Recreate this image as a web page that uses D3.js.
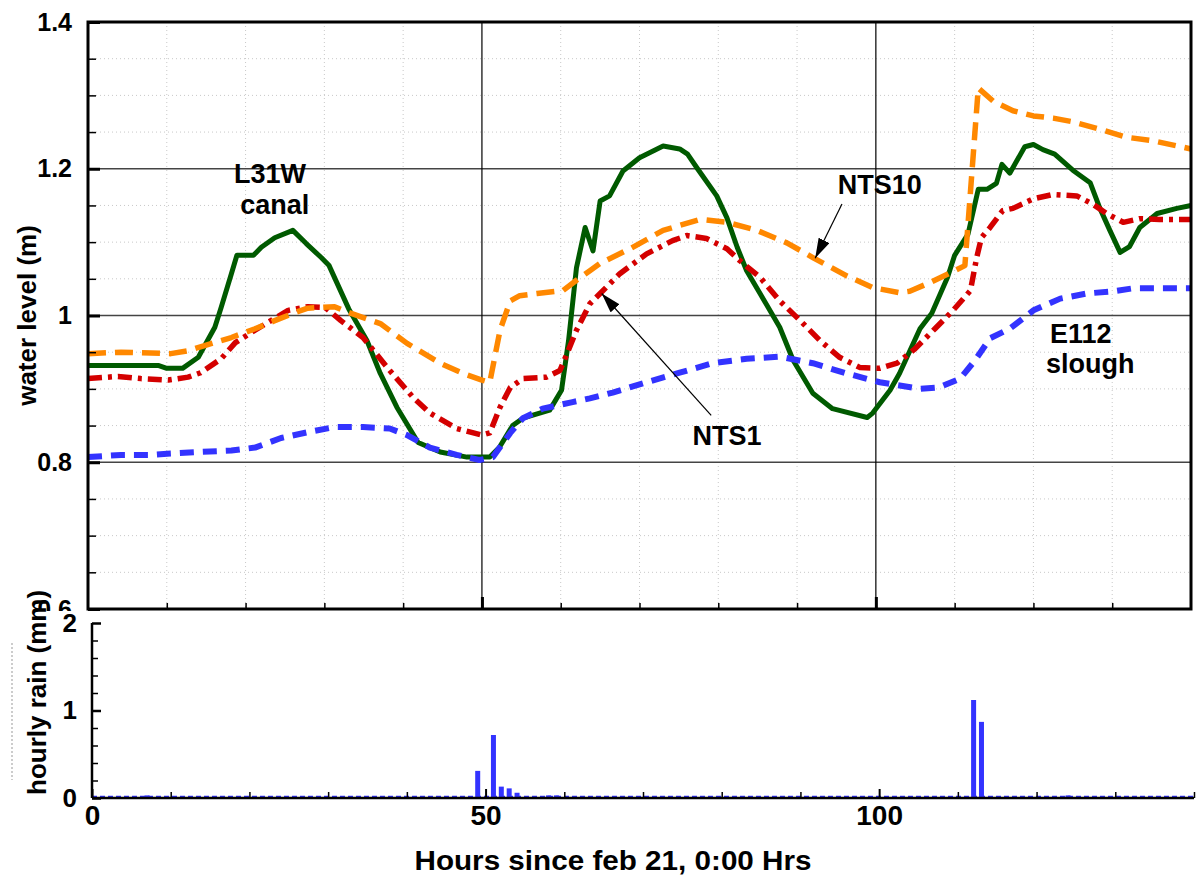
<!DOCTYPE html>
<html>
<head>
<meta charset="utf-8">
<script src="https://cdn.jsdelivr.net/npm/d3@7"></script>
<style>
  body { margin: 0; background: #fff; }
  text { font-family: Arial, "Liberation Sans", sans-serif; font-weight: bold; fill: #000; }
</style>
</head>
<body>
<div id="chart"></div>
<script>
// water levels: [hour, level in m]
var l31wCanal = [[0,0.932],[8.9,0.932],[10,0.928],[12,0.928],[14,0.943],[16.1,0.984],[16.9,1.011],[18.2,1.057],[18.9,1.082],[21,1.082],[22,1.093],[23.7,1.106],[26,1.116],[27.7,1.098],[29.6,1.079],[30.6,1.068],[33.1,1.009],[35.4,0.966],[37.1,0.921],[39.2,0.875],[41.9,0.827],[44.7,0.814],[48.1,0.807],[51,0.807],[52.2,0.82],[53.9,0.85],[55.2,0.86],[58.6,0.871],[60.1,0.898],[61,0.966],[62,1.065],[63.1,1.12],[64.1,1.088],[65,1.156],[66.2,1.163],[67.9,1.197],[70,1.215],[73,1.231],[75.1,1.227],[76.1,1.22],[77.3,1.201],[79.8,1.163],[81.1,1.133],[82.4,1.093],[83.6,1.061],[85.3,1.03],[87.8,0.984],[89.5,0.939],[92,0.894],[94.5,0.873],[98.9,0.861],[99.6,0.867],[101.8,0.898],[103,0.921],[105.6,0.982],[107.1,1.003],[109.1,1.052],[110,1.082],[111.7,1.111],[113,1.172],[114.1,1.172],[115.3,1.18],[116,1.206],[117,1.194],[118.9,1.23],[120,1.233],[121.2,1.226],[122.7,1.22],[125,1.198],[127.2,1.181],[128.4,1.147],[129.7,1.116],[131,1.086],[132.2,1.094],[133.5,1.12],[135.7,1.139],[138.2,1.146],[140,1.15]];

var nts1 = [[0,0.914],[3.8,0.917],[6.7,0.914],[10.2,0.912],[12.7,0.916],[14.3,0.922],[16.9,0.941],[18.7,0.963],[21.2,0.98],[25.4,1.007],[27.9,1.012],[30.1,1.011],[32.1,0.993],[34.9,0.97],[38.3,0.925],[41.3,0.888],[43.4,0.867],[46.8,0.846],[50,0.837],[51,0.84],[52.3,0.875],[53.6,0.902],[55.2,0.914],[58.2,0.916],[59.9,0.925],[60.8,0.948],[62,0.98],[63.7,1.016],[65,1.03],[67.5,1.057],[70.9,1.084],[74.2,1.102],[76,1.109],[78.5,1.105],[81.1,1.091],[82.7,1.075],[85.3,1.052],[87.8,1.02],[90.4,0.993],[92.9,0.966],[95.4,0.943],[98,0.929],[100.5,0.928],[102.7,0.935],[105,0.955],[107.5,0.982],[109.8,1.007],[112,1.034],[112.8,1.079],[113.4,1.106],[114.5,1.12],[116.1,1.143],[117.4,1.146],[120,1.159],[122.5,1.165],[125.5,1.163],[127.5,1.152],[129.3,1.139],[131.4,1.127],[133.5,1.132],[136,1.131],[140,1.131]];

var nts10 = [[0,0.948],[4.2,0.95],[10.5,0.948],[12.7,0.952],[14.8,0.959],[18.2,0.97],[21.2,0.982],[23.7,0.993],[26.3,1.004],[27.9,1.01],[31.3,1.012],[33.1,1.004],[37.1,0.989],[40.5,0.962],[44.7,0.935],[47.6,0.921],[50,0.912],[51,0.909],[52.3,0.98],[53.6,1.02],[54.8,1.027],[57,1.03],[60.3,1.034],[62,1.048],[63.7,1.061],[65,1.071],[68.8,1.091],[73,1.116],[77.7,1.131],[81.1,1.127],[84.9,1.116],[88.7,1.099],[92,1.079],[96.3,1.054],[99.6,1.038],[103,1.031],[104.3,1.033],[106.9,1.045],[109.4,1.058],[111.3,1.068],[113,1.31],[114.9,1.292],[117.4,1.279],[120,1.272],[122.5,1.269],[125,1.264],[128.4,1.254],[131.8,1.243],[135.2,1.238],[140,1.227]];

var e112Slough = [[0,0.807],[4.2,0.81],[8,0.81],[10.5,0.812],[14,0.814],[18.2,0.816],[21.2,0.82],[24.5,0.833],[27.9,0.841],[31.3,0.848],[34.9,0.848],[38.3,0.846],[40.5,0.837],[43.4,0.82],[46.8,0.81],[49.7,0.803],[51.4,0.807],[53.6,0.84],[55.2,0.86],[57.7,0.873],[61.5,0.882],[63.7,0.887],[66.6,0.895],[70.9,0.909],[75.1,0.922],[79.3,0.935],[83.6,0.941],[87.8,0.944],[92,0.935],[96.3,0.921],[100.5,0.909],[105.6,0.9],[108,0.902],[110.7,0.914],[112.6,0.939],[114.5,0.969],[117,0.982],[120,1.007],[123.4,1.023],[126.8,1.03],[130.1,1.033],[132.6,1.037],[140,1.037]];

// hourly rain (mm), only the hours with rain
var rainHours = [7, 49, 51, 52, 53, 54, 58, 59, 112, 113, 124];
var rainMm    = [0.03, 0.31, 0.72, 0.13, 0.11, 0.06, 0.03, 0.03, 1.12, 0.87, 0.03];

var levelTicks = [0.6, 0.8, 1.0, 1.2, 1.4];
var levelTickLabels = ["0.6", "0.8", "1", "1.2", "1.4"];
var rainTicks = [0, 1, 2];
var hourTicks = [0, 50, 100];

var W = 1199, H = 888;
var svg = d3.select("#chart").append("svg")
    .attr("width", W)
    .attr("height", H);

svg.append("defs").append("marker")
    .attr("id", "arrow")
    .attr("markerUnits", "userSpaceOnUse")
    .attr("viewBox", "0 0 20 12")
    .attr("refX", 20).attr("refY", 6)
    .attr("markerWidth", 20).attr("markerHeight", 12)
    .attr("orient", "auto")
  .append("path")
    .attr("d", "M0,0 L20,6 L0,12 Z")
    .attr("fill", "#000");

// ---------- top panel: water level ----------
var x = d3.scaleLinear().domain([0, 140]).range([88, 1191]);
var y = d3.scaleLinear().domain([0.6, 1.4]).range([609, 22]);

var topPanel = svg.append("g");

// minor dotted grid
topPanel.append("g").selectAll("line")
  .data(d3.range(0.65, 1.4, 0.05).filter(function(v) { return Math.abs(v * 5 - Math.round(v * 5)) > 0.01; }))
  .enter().append("line")
    .attr("x1", x(0)).attr("x2", x(140))
    .attr("y1", function(d) { return y(d); }).attr("y2", function(d) { return y(d); })
    .attr("stroke", "#c8c8c8").attr("stroke-width", 1).attr("stroke-dasharray", "1,3");
topPanel.append("g").selectAll("line")
  .data(d3.range(10, 140, 10).filter(function(h) { return h % 50 !== 0; }))
  .enter().append("line")
    .attr("x1", function(d) { return x(d); }).attr("x2", function(d) { return x(d); })
    .attr("y1", y(1.4)).attr("y2", y(0.6))
    .attr("stroke", "#c8c8c8").attr("stroke-width", 1).attr("stroke-dasharray", "1,3");

// major grid
topPanel.append("g").selectAll("line")
  .data([0.8, 1.0, 1.2])
  .enter().append("line")
    .attr("x1", x(0)).attr("x2", x(140))
    .attr("y1", function(d) { return y(d); }).attr("y2", function(d) { return y(d); })
    .attr("stroke", "#444").attr("stroke-width", 1.5);
topPanel.append("g").selectAll("line")
  .data([50, 100])
  .enter().append("line")
    .attr("x1", function(d) { return x(d); }).attr("x2", function(d) { return x(d); })
    .attr("y1", y(1.4)).attr("y2", y(0.6))
    .attr("stroke", "#000").attr("stroke-width", 1.2);

// series
var line = d3.line()
    .x(function(d) { return x(d[0]); })
    .y(function(d) { return y(d[1]); });

var series = [
  { data: l31wCanal, color: "#005a00", dash: null, width: 5 },
  { data: nts1, color: "#d40000", dash: "14,6,4,6", width: 5.5 },
  { data: nts10, color: "#ff8800", dash: "18,9", width: 5.5 },
  { data: e112Slough, color: "#3333ff", dash: "14,9", width: 6 }
];
topPanel.append("g").selectAll("path")
  .data(series)
  .enter().append("path")
    .attr("d", function(d) { return line(d.data); })
    .attr("fill", "none")
    .attr("stroke", function(d) { return d.color; })
    .attr("stroke-width", function(d) { return d.width; })
    .attr("stroke-dasharray", function(d) { return d.dash; })
    .attr("stroke-linejoin", "round");

// axes (ticks inward)
var yMinor = topPanel.append("g").attr("transform", "translate(88,0)")
    .call(d3.axisLeft(y).tickValues(d3.range(0.65, 1.4, 0.05)).tickSize(-8).tickFormat(""));
yMinor.select(".domain").remove();
yMinor.selectAll("line").attr("stroke-width", 1.5);

var yAxis = topPanel.append("g").attr("transform", "translate(88,0)")
    .call(d3.axisLeft(y).tickValues(levelTicks).tickSize(-12).tickPadding(16)
      .tickFormat(function(d, i) { return levelTickLabels[i]; }));
yAxis.select(".domain").remove();
yAxis.selectAll("line").attr("stroke-width", 3);
yAxis.selectAll("text").style("font-size", "25px").attr("font-family", null).attr("fill", "#000");

var xMinorTop = topPanel.append("g").attr("transform", "translate(0,609)")
    .call(d3.axisBottom(x).tickValues(d3.range(10, 140, 10)).tickSize(-6).tickFormat(""));
xMinorTop.select(".domain").remove();
xMinorTop.selectAll("line").attr("stroke-width", 1.5);
var xMajorTop = topPanel.append("g").attr("transform", "translate(0,609)")
    .call(d3.axisBottom(x).tickValues([50, 100]).tickSize(-12).tickFormat(""));
xMajorTop.select(".domain").remove();
xMajorTop.selectAll("line").attr("stroke-width", 3);

topPanel.append("rect")
    .attr("x", x(0)).attr("y", y(1.4))
    .attr("width", x(140) - x(0)).attr("height", y(0.6) - y(1.4))
    .attr("fill", "none").attr("stroke", "#000").attr("stroke-width", 3);

topPanel.append("text")
    .attr("transform", "translate(36," + ((y(0.6) + y(1.4)) / 2) + ") rotate(-90)")
    .attr("text-anchor", "middle")
    .style("font-size", "26px")
    .text("water level (m)");

// annotations
function label(t, h, v) {
  topPanel.append("text")
    .attr("x", x(h)).attr("y", y(v))
    .attr("text-anchor", "middle")
    .style("font-size", "27px")
    .text(t);
}
label("L31W", 23.1, 1.181);
label("canal", 23.7, 1.139);
label("NTS10", 100.5, 1.166);
label("NTS1", 81.1, 0.823);
label("E112", 126, 0.962);
label("slough", 127.2, 0.922);

var arrows = [
  { from: [95.7, 1.152], to: [92.3, 1.078] },
  { from: [79.1, 0.864], to: [65.2, 1.03] }
];
topPanel.append("g").selectAll("line")
  .data(arrows)
  .enter().append("line")
    .attr("x1", function(d) { return x(d.from[0]); })
    .attr("y1", function(d) { return y(d.from[1]); })
    .attr("x2", function(d) { return x(d.to[0]); })
    .attr("y2", function(d) { return y(d.to[1]); })
    .attr("stroke", "#000").attr("stroke-width", 1.2)
    .attr("marker-end", "url(#arrow)");

// ---------- bottom panel: hourly rain ----------
var x2 = d3.scaleLinear().domain([0, 140]).range([92, 1194]);
var y2 = d3.scaleLinear().domain([0, 2]).range([798, 623]);

svg.append("rect")
    .attr("x", 0).attr("y", 611)
    .attr("width", W).attr("height", H - 611)
    .attr("fill", "#fff");

var bottomPanel = svg.append("g");

// stray dotted mark left of the panel
bottomPanel.append("line")
    .attr("x1", 12).attr("x2", 12)
    .attr("y1", 643).attr("y2", 780)
    .attr("stroke", "#999").attr("stroke-width", 1).attr("stroke-dasharray", "2,2");

// zero-rain baseline
bottomPanel.append("line")
    .attr("x1", x2(0)).attr("x2", x2(140))
    .attr("y1", y2(0) - 1).attr("y2", y2(0) - 1)
    .attr("stroke", "#3333ff").attr("stroke-width", 2.5).attr("stroke-dasharray", "5,3");

bottomPanel.append("g").selectAll("rect")
  .data(rainHours)
  .enter().append("rect")
    .attr("x", function(d) { return x2(d) - 2.5; })
    .attr("width", 5)
    .attr("y", function(d, i) { return y2(rainMm[i]); })
    .attr("height", function(d, i) { return y2(0) - y2(rainMm[i]); })
    .attr("fill", "#3333ff");

var yMinor2 = bottomPanel.append("g").attr("transform", "translate(92,0)")
    .call(d3.axisLeft(y2).tickValues(d3.range(0.2, 2, 0.2)).tickSize(-6).tickFormat(""));
yMinor2.select(".domain").remove();
yMinor2.selectAll("line").attr("stroke-width", 1.5);

var yAxis2 = bottomPanel.append("g").attr("transform", "translate(92,0)")
    .call(d3.axisLeft(y2).tickValues(rainTicks).tickSize(-9).tickPadding(15).tickFormat(d3.format("d")));
yAxis2.select(".domain").attr("stroke-width", 2.5).attr("d", "M0," + y2(2) + "V" + y2(0));
yAxis2.selectAll("line").attr("stroke-width", 2.5);
yAxis2.selectAll("text").style("font-size", "26px").attr("font-family", null).attr("fill", "#000");

var xMinor2 = bottomPanel.append("g").attr("transform", "translate(0,798)")
    .call(d3.axisBottom(x2).tickValues(d3.range(10, 150, 10).filter(function(h) { return h % 50 !== 0; })).tickSize(-6).tickFormat(""));
xMinor2.select(".domain").remove();
xMinor2.selectAll("line").attr("stroke-width", 1.5);

var xAxis2 = bottomPanel.append("g").attr("transform", "translate(0,798)")
    .call(d3.axisBottom(x2).tickValues(hourTicks).tickSize(-9).tickPadding(7).tickFormat(d3.format("d")));
xAxis2.select(".domain").attr("stroke-width", 2.5).attr("d", "M" + x2(0) + ",0H" + x2(140));
xAxis2.selectAll("line").attr("stroke-width", 2);
xAxis2.selectAll("text").style("font-size", "28px").attr("font-family", null).attr("fill", "#000");

bottomPanel.append("text")
    .attr("transform", "translate(46,795) rotate(-90)")
    .attr("text-anchor", "start")
    .style("font-size", "26px")
    .text("hourly rain (mm)");

bottomPanel.append("text")
    .attr("x", 613).attr("y", 870)
    .attr("text-anchor", "middle")
    .attr("textLength", 397)
    .attr("lengthAdjust", "spacingAndGlyphs")
    .style("font-size", "28px")
    .text("Hours since feb 21, 0:00 Hrs");
</script>
</body>
</html>
